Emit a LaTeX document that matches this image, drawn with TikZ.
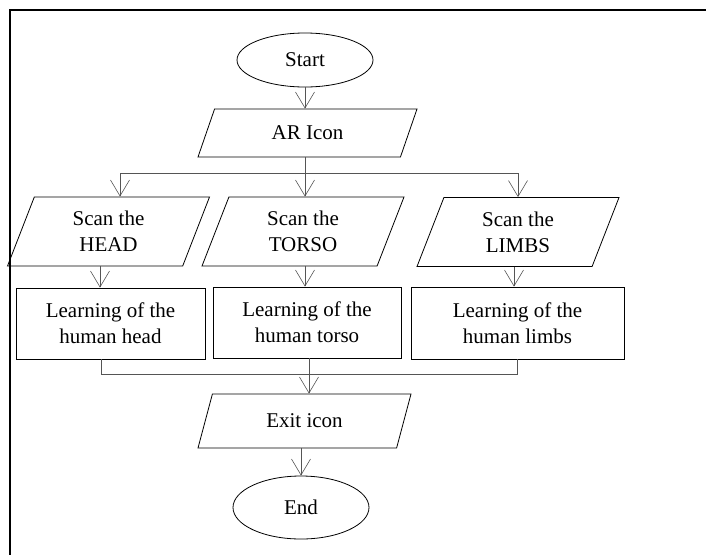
\documentclass[tikz,border=0pt]{standalone}
\usepackage{fontspec}
\setmainfont{Liberation Serif}
\usepackage{tikz}
\usetikzlibrary{shapes.geometric, arrows.meta, calc}
\definecolor{wireGray}{RGB}{85,85,85}

\begin{document}
\begin{tikzpicture}[
      x=1pt, y=-1pt,
      >={Straight Barb[length=16pt, width=19pt]},
      term/.style={draw, ellipse, line width=0.8pt, inner sep=0pt,
                   minimum width=136pt, minimum height=54pt},
      io/.style={draw, trapezium, trapezium stretches body,
                 trapezium left angle=59, trapezium right angle=121,
                 line width=0.8pt, inner sep=2pt, align=center,
                 minimum width=202pt, minimum height=69pt},
      box/.style={draw, rectangle, line width=0.8pt, align=center,
                  minimum height=71pt},
      arr/.style={->, line width=0.6pt, color=wireGray},
      wire/.style={line width=0.6pt, color=wireGray},
      font=\fontsize{21}{26}\selectfont
    ]
      \useasboundingbox (0,0) rectangle (706,555);
      % frame
      \draw[line width=2pt] (9,10) -- (706,10);
      \draw[line width=2pt] (10,10) -- (10,555);

      \node[term] (start) at (305,60) {Start};
      \node[io, trapezium left angle=47.5, trapezium right angle=132.5,
            minimum width=219pt, minimum height=48pt] (ar) at (307.5,133) {AR Icon};
      \node[io] (scanH) at (108.5,231.5) {Scan the\\HEAD};
      \node[io] (scanT) at (303,231.5)   {Scan the\\TORSO};
      \node[io] (scanL) at (518,232)     {Scan the\\LIMBS};
      \node[box, minimum width=189pt] (learnH) at (110.5,323.5) {Learning of the\\human head};
      \node[box, minimum width=188pt] (learnT) at (307,322.5)   {Learning of the\\human torso};
      \node[box, minimum width=213pt, minimum height=72pt] (learnL) at (517.5,323) {Learning of the\\human limbs};
      \node[io, trapezium left angle=51.5, trapezium right angle=128.5,
            minimum width=213pt, minimum height=54pt] (exit) at (304.5,421) {Exit icon};
      \node[term, minimum height=63pt] (end) at (301,507.5) {End};

      \coordinate (brL) at (120,173);
      \coordinate (brR) at (518,173);
      \coordinate (brC) at (305,173);
      \coordinate (mgL) at (101,374);
      \coordinate (mgR) at (517,374);
      \coordinate (mgC) at (309,374);

      \draw[arr] (start.south) -- (start.south |- ar.north);
      \draw[wire] (brC |- ar.south) -- (brC);
      \draw[wire] (brL) -- (brR);
      \draw[arr] (brL) -- (brL |- scanH.north);
      \draw[arr] (brC) -- (brC |- scanT.north);
      \draw[arr] (brR) -- (brR |- scanL.north);
      \draw[arr] (100,0 |- scanH.south) -- (100,0 |- learnH.north);
      \draw[arr] (brC |- scanT.south) -- (brC |- learnT.north);
      \draw[arr] (514,0 |- scanL.south) -- (514,0 |- learnL.north);
      \draw[wire] (mgL |- learnH.south) -- (mgL) -- (mgR) -- (mgR |- learnL.south);
      \draw[arr] (mgC |- learnT.south) -- (mgC |- exit.north);
      \draw[arr] (301,0 |- exit.south) -- (end.north);
    \end{tikzpicture}
\end{document}
